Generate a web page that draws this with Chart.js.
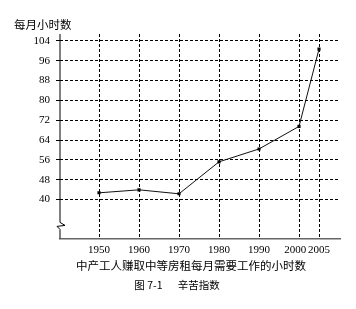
<!DOCTYPE html>
<html>
<head>
<meta charset="utf-8">
<script src="https://cdn.jsdelivr.net/npm/chart.js@4/dist/chart.umd.min.js"></script>
<style>
  html, body { margin: 0; padding: 0; background: #fff; }
  #wrap { width: 356px; height: 309px; }
</style>
</head>
<body>
<div id="wrap"><canvas id="grafico"></canvas></div>
<script>
const anos = [1950, 1960, 1970, 1980, 1990, 2000, 2005]
const horas = [42.7, 43.9, 42.3, 55.2, 60.4, 69.5, 100.7]
const ticksX = [1950, 1960, 1970, 1980, 1990, 2000, 2005]
const ticksY = [40, 48, 56, 64, 72, 80, 88, 96, 104]

const tituloY = '每月小时数'
const tituloX = '中产工人赚取中等房租每月需要工作的小时数'
const legenda = '图 7-1　  辛苦指数'

const cjk = '"Noto Sans CJK SC", sans-serif'
const serif = '"Liberation Serif", "Times New Roman", serif'

// eixo y com a quebra (zigue-zague) e titulo do eixo x
const eixoQuebrado = {
  id: 'eixoQuebrado',
  afterDraw(chart) {
    const c = chart.ctx
    const a = chart.chartArea
    const x = a.left
    c.save()
    c.strokeStyle = '#000'
    c.lineWidth = 1
    c.beginPath()
    c.moveTo(x, a.top)
    c.lineTo(x, a.bottom - 16)
    c.lineTo(x + 5, a.bottom - 13)
    c.lineTo(x - 3, a.bottom - 12)
    c.lineTo(x, a.bottom - 9)
    c.lineTo(x, a.bottom)
    c.stroke()

    c.fillStyle = '#000'
    c.font = '11.5px ' + cjk
    c.textAlign = 'center'
    c.textBaseline = 'middle'
    c.fillText(tituloX, 191, 266)
    c.restore()
  }
}

const ctx = document.getElementById('grafico')

new Chart(ctx, {
  type: 'line',
  data: {
    datasets: [{
      data: anos.map((a, i) => ({ x: a, y: horas[i] })),
      borderColor: '#111',
      borderWidth: 1,
      backgroundColor: '#000',
      pointStyle: 'rect',
      pointRadius: 2.2,
      pointBorderWidth: 0,
      tension: 0
    }]
  },
  options: {
    responsive: true,
    maintainAspectRatio: false,
    animation: false,
    layout: { padding: { left: 14, right: 16, top: 0, bottom: 0 } },
    plugins: {
      legend: { display: false },
      tooltip: { enabled: false },
      title: {
        display: true,
        text: tituloY,
        align: 'start',
        color: '#000',
        font: { family: cjk, size: 11.5, weight: 'normal' },
        padding: { top: 18, bottom: 2.2 }
      },
      subtitle: {
        display: true,
        text: legenda,
        position: 'bottom',
        color: '#000',
        font: { family: cjk, size: 10.5 },
        padding: { top: 3.4, bottom: 17.3 }
      }
    },
    scales: {
      x: {
        type: 'linear',
        min: 1940.25,
        max: 2010.25,
        afterBuildTicks: s => { s.ticks = ticksX.map(v => ({ value: v })) },
        afterFit: s => { s.height = 37.3 },
        ticks: {
          color: '#000',
          font: { family: serif, size: 11 },
          padding: 5,
          maxRotation: 0,
          autoSkip: false,
          // 2000 e 2005 ficam muito juntos, empurra o 2000 um pouco pra esquerda
          callback: v => v === 2000 ? '2000\u2002\u2009' : String(v)
        },
        grid: {
          color: '#000',
          lineWidth: 1,
          drawTicks: false
        },
        border: { display: true, color: '#666', width: 1.5, dash: [3, 2] }
      },
      y: {
        min: 24.3,
        max: 106.8,
        afterBuildTicks: s => { s.ticks = ticksY.map(v => ({ value: v })) },
        afterFit: s => { s.width = 46 },
        ticks: {
          color: '#000',
          font: { family: serif, size: 11 },
          padding: 6,
          callback: v => String(v)
        },
        grid: {
          color: '#000',
          lineWidth: 1,
          tickLength: 4,
          drawTicks: true
        },
        border: { display: false, dash: [3, 2] }
      }
    }
  },
  plugins: [eixoQuebrado]
})
</script>
</body>
</html>
